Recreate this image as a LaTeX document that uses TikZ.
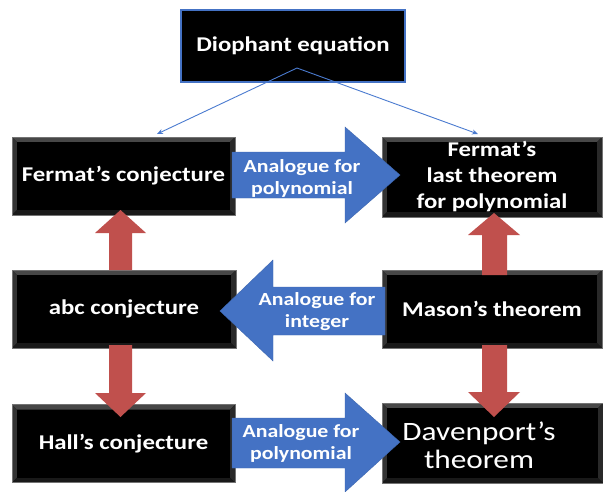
\documentclass[tikz,border=0pt]{standalone}
\usepackage{fontspec}
\setmainfont{Carlito}[FakeStretch=1.18]
\usetikzlibrary{calc,arrows.meta}
\definecolor{pblue}{HTML}{4472C4}
\definecolor{pred}{HTML}{C0504D}
\definecolor{lineblue}{HTML}{4A7BD0}
\tikzset{
  bevelbox/.style={fill=black, draw=black!55, line width=0.6pt, text=white,
    font=\bfseries\fontsize{21}{26}\selectfont, align=center, inner sep=0pt,
    minimum width=223pt, minimum height=78pt,
    path picture={
      \path (path picture bounding box.north west) coordinate (bnw)
            (path picture bounding box.south east) coordinate (bse);
      \path (bnw -| bse) coordinate (bne) (bse -| bnw) coordinate (bsw);
      \fill[black!72] (bnw) -- (bne) -- ($(bne)+(-5pt,-5pt)$) -- ($(bnw)+(5pt,-5pt)$) -- cycle;
      \fill[black!80] (bnw) -- (bsw) -- ($(bsw)+(5pt,5pt)$) -- ($(bnw)+(5pt,-5pt)$) -- cycle;
      \fill[black!84] (bne) -- (bse) -- ($(bse)+(-5pt,5pt)$) -- ($(bne)+(-5pt,-5pt)$) -- cycle;
      \fill[black!90] (bsw) -- (bse) -- ($(bse)+(-5pt,5pt)$) -- ($(bsw)+(5pt,5pt)$) -- cycle;
      \fill[black] ($(bnw)+(5pt,-5pt)$) rectangle ($(bse)+(-5pt,5pt)$);
    }},
  topbox/.style={fill=black, draw=pblue, line width=1.5pt, text=white,
    font=\bfseries\fontsize{21}{26}\selectfont, inner sep=0pt,
    minimum width=224pt, minimum height=72pt},
  bluearrow/.style={fill=pblue, draw=pblue!90!black, line width=0.4pt},
  redarrow/.style={fill=pred},
  arrowtext/.style={text=white, font=\bfseries\fontsize{18.5}{22}\selectfont, align=center, inner sep=0pt},
  thinline/.style={draw=lineblue, line width=0.9pt, -{Stealth[length=6pt,width=5pt]}}
}
\begin{document}
\begin{tikzpicture}[x=1pt,y=-1pt]
\useasboundingbox (0,0) rectangle (603,491);
\fill[white] (0,0) rectangle (603,491);

% boxes
\node[topbox] (dio) at (293,46) {Diophant equation};
\node[bevelbox] (fc) at (123.5,176) {Fermat’s conjecture};
\node[bevelbox, minimum width=220pt, minimum height=80pt] (flt) at (492,177) {Fermat’s\\last theorem\\for polynomial};
\node[bevelbox, minimum width=224pt] (abc) at (124,309) {abc conjecture};
\node[bevelbox, minimum width=220pt] (mason) at (492,309) {Mason’s theorem};
\node[bevelbox] (hall) at (123.5,443.5) {Hall’s conjecture};
\node[bevelbox, minimum width=221pt, minimum height=80pt] (dav) at (492.5,443) {};
\node[text=white, align=center, inner sep=0pt,
      font=\fontsize{26.5}{27.5}\selectfont] (davt) at (479,445) {Davenport’s\\theorem};

% thin blue lines from the top box
\coordinate (apex) at (297,68);
\coordinate (lend) at (157,134);
\coordinate (rend) at (478,134);
\draw[thinline] (apex) -- (lend);
\draw[thinline] (apex) -- (rend);

% blue block arrows
\fill[bluearrow] (232,152) -- (345,152) -- (345,127) -- (400,175) -- (345,223) -- (345,198) -- (232,198) -- cycle;
\node[arrowtext] (t1) at (302,178) {Analogue for\\polynomial};

\fill[bluearrow] (385,287) -- (273,287) -- (273,260) -- (220,311) -- (273,361) -- (273,335) -- (385,335) -- cycle;
\node[arrowtext] (t2) at (317,312) {Analogue for\\integer};

\fill[bluearrow] (232,418) -- (345,418) -- (345,393) -- (400,442) -- (345,492) -- (345,468) -- (232,468) -- cycle;
\node[arrowtext] (t3) at (301,443) {Analogue for\\polynomial};

% red block arrows
\fill[redarrow] (109,270) -- (109,233) -- (95,233) -- (120.5,210) -- (146,233) -- (132,233) -- (132,270) -- cycle;
\fill[redarrow] (109,345) -- (109,393) -- (95,393) -- (120.5,417) -- (146,393) -- (132,393) -- (132,345) -- cycle;
\fill[redarrow] (482,275) -- (482,235) -- (468,235) -- (494,213) -- (520,235) -- (507,235) -- (507,275) -- cycle;
\fill[redarrow] (482,345) -- (482,392) -- (468,392) -- (494,417) -- (520,392) -- (507,392) -- (507,345) -- cycle;
\end{tikzpicture}
\end{document}
